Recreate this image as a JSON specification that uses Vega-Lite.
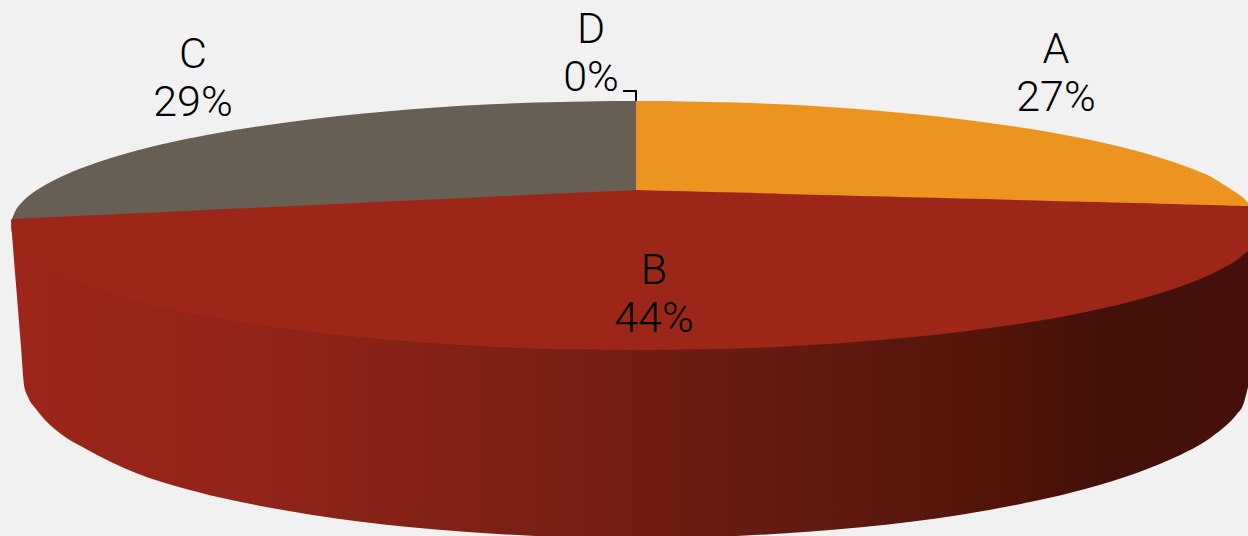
{
"$schema":"https://vega.github.io/schema/vega-lite/v6.json",
"width":1248,"height":536,
"autosize":{"type":"fit","contains":"padding"},
"padding":0,
"background":"#f1f1f1",
"view":{"stroke":null,"fill":null},
"datasets":{
"side":[
{"x":11,"y":225,"y2":222},{"x":14,"y":225,"y2":260},{"x":17,"y":225,"y2":297},{"x":21,"y":225,"y2":347},{"x":24,"y":225,"y2":385},{"x":28,"y":225,"y2":397},{"x":36,"y":225,"y2":409},{"x":46,"y":225,"y2":421},{"x":61,"y":225,"y2":434},{"x":86,"y":225,"y2":449},{"x":111,"y":225,"y2":462},{"x":136,"y":225,"y2":473},{"x":186,"y":225,"y2":489},{"x":236,"y":225,"y2":501},{"x":286,"y":225,"y2":510.5},{"x":336,"y":225,"y2":518.4},{"x":386,"y":225,"y2":524.7},{"x":436,"y":225,"y2":529.6},{"x":486,"y":225,"y2":533.3},{"x":536,"y":225,"y2":536},{"x":586,"y":225,"y2":537.5},{"x":636,"y":225,"y2":538},{"x":686,"y":225,"y2":537.5},{"x":736,"y":225,"y2":536},{"x":786,"y":225,"y2":533.3},{"x":836,"y":225,"y2":529.6},{"x":886,"y":225,"y2":524.7},{"x":936,"y":225,"y2":518.4},{"x":986,"y":225,"y2":510.5},{"x":1036,"y":225,"y2":500.8},{"x":1086,"y":225,"y2":488.7},{"x":1136,"y":225,"y2":473.2},{"x":1161,"y":225,"y2":463.6},{"x":1186,"y":225,"y2":452.1},{"x":1211,"y":225,"y2":437.4},{"x":1226,"y":225,"y2":425.6},{"x":1236,"y":225,"y2":415.2},{"x":1244,"y":225,"y2":402.5},{"x":1248,"y":225,"y2":387}],
"b":[
{"x":11,"y":220,"y2":221},{"x":12,"y":219,"y2":232.5},{"x":16,"y":216,"y2":241.2},{"x":21,"y":215.6,"y2":247.7},{"x":36,"y":214.9,"y2":260.4},{"x":46,"y":214.4,"y2":266.6},{"x":61,"y":213.7,"y2":274.3},{"x":86,"y":212.6,"y2":284.6},{"x":111,"y":211.4,"y2":293.1},{"x":136,"y":210.2,"y2":300.2},{"x":186,"y":207.9,"y2":311.9},{"x":236,"y":205.6,"y2":321.2},{"x":286,"y":203.3,"y2":328.6},{"x":336,"y":200.9,"y2":334.7},{"x":386,"y":198.6,"y2":339.6},{"x":436,"y":196.3,"y2":343.5},{"x":486,"y":194,"y2":346.4},{"x":536,"y":191.6,"y2":348.4},{"x":586,"y":189.3,"y2":349.6},{"x":636,"y":187,"y2":350},{"x":686,"y":188.3,"y2":349.6},{"x":736,"y":189.6,"y2":348.4},{"x":786,"y":190.9,"y2":346.4},{"x":836,"y":192.2,"y2":343.5},{"x":886,"y":193.5,"y2":339.6},{"x":936,"y":194.8,"y2":334.7},{"x":986,"y":196.1,"y2":328.6},{"x":1036,"y":197.5,"y2":321.2},{"x":1086,"y":198.8,"y2":311.9},{"x":1111,"y":199.4,"y2":306.4},{"x":1136,"y":200.1,"y2":300.2},{"x":1161,"y":200.7,"y2":293.1},{"x":1186,"y":201.4,"y2":284.6},{"x":1211,"y":202,"y2":274.3},{"x":1226,"y":202.4,"y2":266.6},{"x":1236,"y":202.7,"y2":260.4},{"x":1246,"y":203,"y2":252.6},{"x":1248,"y":203,"y2":251}],
"c":[
{"x":12,"y":219,"y2":219},{"x":16,"y":209.8,"y2":218.8},{"x":21,"y":203.3,"y2":218.6},{"x":36,"y":190.6,"y2":217.9},{"x":46,"y":184.4,"y2":217.4},{"x":61,"y":176.7,"y2":216.7},{"x":86,"y":166.4,"y2":215.6},{"x":111,"y":157.9,"y2":214.4},{"x":136,"y":150.8,"y2":213.2},{"x":186,"y":139.1,"y2":210.9},{"x":236,"y":129.8,"y2":208.6},{"x":286,"y":122.4,"y2":206.3},{"x":336,"y":116.3,"y2":203.9},{"x":386,"y":111.4,"y2":201.6},{"x":436,"y":107.5,"y2":199.3},{"x":486,"y":104.6,"y2":197},{"x":536,"y":102.6,"y2":194.6},{"x":586,"y":101.4,"y2":192.3},{"x":636,"y":101,"y2":190}],
"a":[
{"x":636,"y":101,"y2":190},{"x":686,"y":101.4,"y2":191.3},{"x":736,"y":102.6,"y2":192.6},{"x":786,"y":104.6,"y2":193.9},{"x":836,"y":107.5,"y2":195.2},{"x":886,"y":111.4,"y2":196.5},{"x":936,"y":116.3,"y2":197.8},{"x":986,"y":122.4,"y2":199.1},{"x":1036,"y":129.8,"y2":200.5},{"x":1086,"y":139.1,"y2":201.8},{"x":1111,"y":144.6,"y2":202.4},{"x":1136,"y":150.8,"y2":203.1},{"x":1161,"y":157.9,"y2":203.7},{"x":1186,"y":166.4,"y2":204.4},{"x":1211,"y":176.7,"y2":205},{"x":1226,"y":186,"y2":205.4},{"x":1236,"y":192.5,"y2":205.7},{"x":1246,"y":200.5,"y2":206},{"x":1248,"y":203,"y2":206}],
"leader":[{"x":623,"y":91},{"x":636,"y":91},{"x":636,"y":101}],
"labels":[
{"category":"A","share":27,"x":1056,"y":63},
{"category":"B","share":44,"x":654,"y":284},
{"category":"C","share":29,"x":193,"y":68},
{"category":"D","share":0,"x":591,"y":43}]
},
"encoding":{
"x":{"field":"x","type":"quantitative","scale":{"domain":[0,1248],"nice":false,"zero":false},"axis":null},
"y":{"field":"y","type":"quantitative","scale":{"domain":[536,0],"nice":false,"zero":false},"axis":null}
},
"layer":[
{"data":{"name":"side"},
"mark":{"type":"area","interpolate":"monotone","clip":true,"color":{"gradient":"linear","x1":0,"x2":1,"y1":0,"y2":0,"stops":[{"offset":0,"color":"#9c2619"},{"offset":0.2,"color":"#92241a"},{"offset":0.4,"color":"#7c2015"},{"offset":0.63,"color":"#641a11"},{"offset":0.8,"color":"#521409"},{"offset":0.88,"color":"#43100a"},{"offset":1,"color":"#45100b"}]}},
"encoding":{"y2":{"field":"y2"}}},
{"data":{"name":"b"},"mark":{"type":"area","interpolate":"monotone","clip":true,"color":"#9c2719"},"encoding":{"y2":{"field":"y2"}}},
{"data":{"name":"c"},"mark":{"type":"area","interpolate":"monotone","clip":true,"color":"#675f53"},"encoding":{"y2":{"field":"y2"}}},
{"data":{"name":"a"},"mark":{"type":"area","interpolate":"monotone","clip":true,"color":"#eb9520"},"encoding":{"y2":{"field":"y2"}}},
{"data":{"name":"leader"},"mark":{"type":"line","color":"#000000","strokeWidth":2,"interpolate":"linear"}},
{"data":{"name":"labels"},
"transform":[{"calculate":"datum.category + '\\n' + datum.share + '%'","as":"label"}],
"mark":{"type":"text","font":"Roboto","fontWeight":300,"fontSize":43,"color":"#000000","align":"center","baseline":"alphabetic","lineBreak":"\n","lineHeight":48},
"encoding":{"text":{"field":"label","type":"nominal"}}}
]
}
